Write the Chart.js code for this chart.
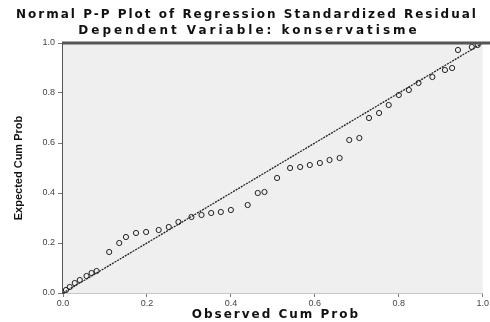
<!DOCTYPE html>
<html>
<head>
<meta charset="utf-8">
<script src="https://cdn.jsdelivr.net/npm/chart.js@4.4.1/dist/chart.umd.min.js"></script>
<style>
    html, body { margin: 0; padding: 0; background: #fff; }
    #wrap { width: 490px; height: 322px; }
</style>
</head>
<body>
<div id="wrap"><canvas id="pp"></canvas></div>
<script>
// Normal P-P plot - wartosci
const titleLines = ['Normal P-P Plot of Regression Standardized Residual', 'Dependent Variable: konservatisme'];
const xTitle = 'Observed Cum Prob';
const yTitle = 'Expected Cum Prob';
const tickValues = [0, 0.2, 0.4, 0.6, 0.8, 1.0];

const observed = [0.007, 0.016, 0.028, 0.04, 0.056, 0.068, 0.08, 0.11, 0.134, 0.15, 0.174, 0.198,
    0.228, 0.252, 0.275, 0.306, 0.33, 0.353, 0.376, 0.4, 0.44, 0.464, 0.48, 0.51, 0.541, 0.565,
    0.588, 0.612, 0.635, 0.659, 0.682, 0.706, 0.729, 0.753, 0.776, 0.8, 0.824, 0.847, 0.88, 0.91,
    0.927, 0.941, 0.974, 0.988];
const expected = [0.012, 0.024, 0.04, 0.052, 0.068, 0.08, 0.088, 0.164, 0.2, 0.224, 0.24, 0.244,
    0.252, 0.264, 0.284, 0.304, 0.312, 0.32, 0.324, 0.332, 0.352, 0.4, 0.404, 0.46, 0.5, 0.504,
    0.512, 0.52, 0.532, 0.54, 0.612, 0.62, 0.7, 0.72, 0.752, 0.792, 0.812, 0.84, 0.864, 0.892,
    0.9, 0.972, 0.984, 0.992];
const refLine = [0, 1];

const plotFrame = {
    id: 'plotFrame',
    beforeDatasetsDraw(chart) {
        const { ctx, chartArea: a } = chart;
        ctx.save();
        ctx.fillStyle = '#efefef';
        ctx.fillRect(a.left, a.top, a.right - a.left, a.bottom - a.top);
        ctx.restore();
    },
    afterDraw(chart) {
        const { ctx, chartArea: a } = chart;
        ctx.save();
        // gorna krawedz
        ctx.strokeStyle = '#555';
        ctx.lineWidth = 3;
        ctx.beginPath();
        ctx.moveTo(a.left - 1, a.top);
        ctx.lineTo(chart.width, a.top);
        ctx.stroke();
        // tytuly
        ctx.fillStyle = '#111';
        ctx.textAlign = 'center';
        ctx.textBaseline = 'middle';
        ctx.font = 'bold 12px "DejaVu Sans"';
        ctx.letterSpacing = '2px';
        ctx.fillText(titleLines[0], 247, 15);
        ctx.letterSpacing = '3px';
        ctx.fillText(titleLines[1], 249, 31);
        // tytul osi X
        ctx.letterSpacing = '2px';
        ctx.fillText(xTitle, (a.left + a.right) / 2 + 3, 315);
        ctx.restore();
    }
};

new Chart(document.getElementById('pp'), {
    type: 'scatter',
    data: {
        datasets: [
            {
                label: 'Observed',
                data: observed.map((x, i) => ({ x: x, y: expected[i] })),
                pointStyle: 'circle',
                pointRadius: 2.6,
                pointBorderWidth: 1,
                pointBorderColor: '#222',
                pointBackgroundColor: 'rgba(0,0,0,0)'
            },
            {
                type: 'line',
                label: 'Reference',
                data: refLine.map(v => ({ x: v, y: v })),
                borderColor: '#222',
                borderWidth: 1.3,
                borderDash: [2, 1],
                pointRadius: 0,
                fill: false
            }
        ]
    },
    options: {
        responsive: true,
        maintainAspectRatio: false,
        animation: false,
        layout: { padding: { top: 43, right: 2, left: 0, bottom: 0 } },
        plugins: {
            legend: { display: false },
            tooltip: { enabled: false }
        },
        scales: {
            x: {
                type: 'linear',
                min: 0,
                max: 1,
                afterFit: s => { s.height = 29; },
                afterBuildTicks: s => { s.ticks = tickValues.map(v => ({ value: v })); },
                ticks: {
                    callback: v => v.toFixed(1),
                    font: { size: 9, family: 'Arial' },
                    color: '#444',
                    padding: 1,
                    maxRotation: 0
                },
                grid: { drawOnChartArea: false, tickLength: 4, color: '#777' },
                border: { color: '#c8c8c8', width: 1 }
            },
            y: {
                type: 'linear',
                min: 0,
                max: 1,
                afterFit: s => { s.width = 63; },
                afterBuildTicks: s => { s.ticks = tickValues.map(v => ({ value: v })); },
                ticks: {
                    callback: v => v.toFixed(1),
                    font: { size: 9, family: 'Arial' },
                    color: '#444',
                    padding: 3
                },
                grid: { drawOnChartArea: false, tickLength: 5, color: '#777' },
                border: { color: '#555', width: 3 },
                title: {
                    display: true,
                    text: yTitle,
                    font: { size: 11, weight: 'bold', family: 'Liberation Sans Narrow, Arial' },
                    color: '#111',
                    padding: { top: 12, bottom: 0 }
                }
            }
        }
    },
    plugins: [plotFrame]
});
</script>
</body>
</html>
